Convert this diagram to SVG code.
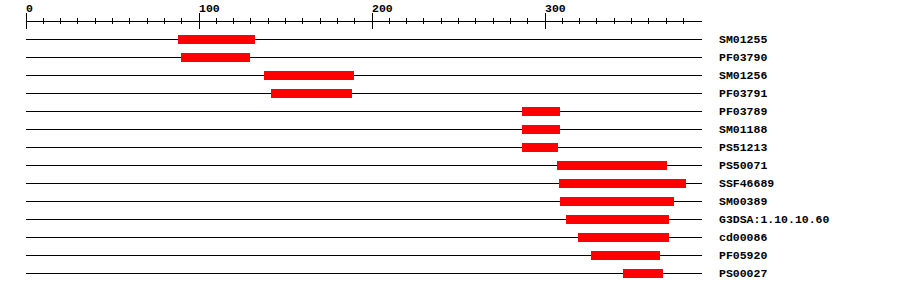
<svg xmlns="http://www.w3.org/2000/svg" width="900" height="292" viewBox="0 0 900 292">
<style>
text{font-family:"Liberation Mono","DejaVu Sans Mono",monospace;font-weight:bold;font-size:11.5px;fill:#000}
.ln{stroke:#000;stroke-width:1;fill:none}
.bar{fill:#ff0000}
</style>
<rect width="900" height="292" fill="#fff"/>
<g id="axis">
<path class="ln" d="M26 21.5H702"/>
<path class="ln" d="M26.5 13v16M199.5 13v16M372.5 13v16M545.5 13v16"/>
<path class="ln" d="M43.5 18v6M60.5 18v6M77.5 18v6M95.5 18v6M112.5 18v6M129.5 18v6M147.5 18v6M164.5 18v6M181.5 18v6M216.5 18v6M233.5 18v6M250.5 18v6M268.5 18v6M285.5 18v6M302.5 18v6M320.5 18v6M337.5 18v6M354.5 18v6M389.5 18v6M406.5 18v6M423.5 18v6M441.5 18v6M458.5 18v6M475.5 18v6M493.5 18v6M510.5 18v6M527.5 18v6M562.5 18v6M579.5 18v6M596.5 18v6M614.5 18v6M631.5 18v6M648.5 18v6M666.5 18v6M683.5 18v6"/>
<text x="26" y="12">0</text>
<text x="199" y="12">100</text>
<text x="372" y="12">200</text>
<text x="545" y="12">300</text>
</g>
<g id="connectors">
<path class="ln" d="M26 39.5H702M26 57.5H702M26 75.5H702M26 93.5H702M26 111.5H702M26 129.5H702M26 147.5H702M26 165.5H702M26 183.5H702M26 201.5H702M26 219.5H702M26 237.5H702M26 255.5H702M26 273.5H702"/>
</g>
<g id="SM01255"><rect class="bar" x="178" y="35" width="77" height="9"/><text x="719" y="43">SM01255</text></g>
<g id="PF03790"><rect class="bar" x="181" y="53" width="69" height="9"/><text x="719" y="61">PF03790</text></g>
<g id="SM01256"><rect class="bar" x="264" y="71" width="90" height="9"/><text x="719" y="79">SM01256</text></g>
<g id="PF03791"><rect class="bar" x="271" y="89" width="81" height="9"/><text x="719" y="97">PF03791</text></g>
<g id="PF03789"><rect class="bar" x="522" y="107" width="38" height="9"/><text x="719" y="115">PF03789</text></g>
<g id="SM01188"><rect class="bar" x="522" y="125" width="38" height="9"/><text x="719" y="133">SM01188</text></g>
<g id="PS51213"><rect class="bar" x="522" y="143" width="36" height="9"/><text x="719" y="151">PS51213</text></g>
<g id="PS50071"><rect class="bar" x="557" y="161" width="110" height="9"/><text x="719" y="169">PS50071</text></g>
<g id="SSF46689"><rect class="bar" x="559" y="179" width="127" height="9"/><text x="719" y="187">SSF46689</text></g>
<g id="SM00389"><rect class="bar" x="560" y="197" width="114" height="9"/><text x="719" y="205">SM00389</text></g>
<g id="G3DSA_1.10.10.60"><rect class="bar" x="566" y="215" width="103" height="9"/><text x="719" y="223">G3DSA:1.10.10.60</text></g>
<g id="cd00086"><rect class="bar" x="578" y="233" width="91" height="9"/><text x="719" y="241">cd00086</text></g>
<g id="PF05920"><rect class="bar" x="591" y="251" width="69" height="9"/><text x="719" y="259">PF05920</text></g>
<g id="PS00027"><rect class="bar" x="623" y="269" width="40" height="9"/><text x="719" y="277">PS00027</text></g>
</svg>
